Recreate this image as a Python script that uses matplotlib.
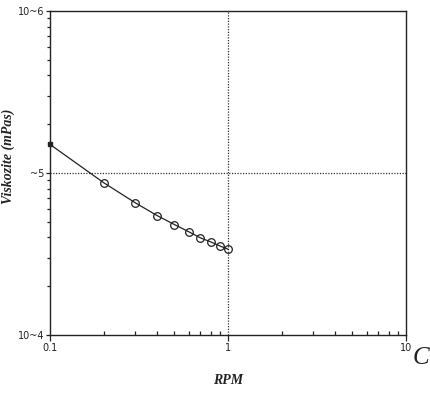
import matplotlib
matplotlib.use('Agg')
import matplotlib.pyplot as plt
from matplotlib.ticker import FixedLocator, NullFormatter, LogLocator

# values
rpm_start = [0.1]
visc_start = [1.50e5]
rpm = [0.1, 0.2, 0.3, 0.4, 0.5, 0.6, 0.7, 0.8, 0.9, 1.0]
visc = [1.50e5, 0.871e5, 0.656e5, 0.545e5, 0.480e5, 0.434e5,
        0.397e5, 0.375e5, 0.354e5, 0.338e5]
x_ticks = [0.1, 1, 10]
x_labels = ['0.1', '1', '10']
y_ticks = [1e4, 1e5, 1e6]
y_labels = ['10~4', '~5', '10~6']

fig = plt.figure(figsize=(4.31, 3.93), dpi=100)
ax = fig.add_axes([0.116, 0.148, 0.826, 0.824])
ax.set_xscale('log')
ax.set_yscale('log')
ax.set_xlim(0.1, 10)
ax.set_ylim(1e4, 1e6)

# dotted reference lines at 1 rpm and 1e5
ax.axvline(1, color='#333333', lw=0.9, ls=(0, (1, 1.2)), zorder=1)
ax.axhline(1e5, color='#333333', lw=0.9, ls=(0, (1, 1.2)), zorder=1)

ax.plot(rpm, visc, color='#222222', lw=0.9, zorder=2)
ax.plot(rpm[1:], visc[1:], ls='none', marker='o', ms=5.5, mfc='none',
        mec='#222222', mew=0.9, zorder=3)
ax.plot(rpm_start, visc_start, ls='none', marker='s', ms=3, color='#222222',
        zorder=3, clip_on=False)

for sp in ax.spines.values():
    sp.set_linewidth(1.0)
    sp.set_color('#222222')

ax.xaxis.set_major_locator(FixedLocator(x_ticks))
ax.set_xticklabels(x_labels)
ax.xaxis.set_minor_locator(LogLocator(base=10, subs=range(2, 10)))
ax.xaxis.set_minor_formatter(NullFormatter())
ax.yaxis.set_major_locator(FixedLocator(y_ticks))
ax.set_yticklabels(y_labels)
ax.yaxis.set_minor_locator(LogLocator(base=10, subs=range(2, 10)))
ax.yaxis.set_minor_formatter(NullFormatter())

ax.tick_params(axis='x', which='major', direction='out', length=4, width=0.9,
               labelsize=7, pad=2, colors='#222222')
ax.tick_params(axis='x', which='minor', direction='in', length=3, width=0.9,
               colors='#222222')
ax.tick_params(axis='y', which='major', direction='out', length=3, width=0.9,
               labelsize=7, pad=1, colors='#222222')
ax.tick_params(axis='y', which='minor', direction='out', length=2.5, width=0.9,
               colors='#222222')
ax.tick_params(top=False, right=False)

ax.set_xlabel('RPM', family='Liberation Serif', style='italic',
              weight='bold', fontsize=10, color='#222222')
ax.xaxis.set_label_coords(0.5, -0.12)
ax.set_ylabel('Viskozite (mPas)', family='Liberation Serif', style='italic',
              weight='bold', fontsize=10, color='#222222')
ax.yaxis.set_label_coords(-0.098, 0.55)

# stray letter from the scanned page
fig.text(0.958, 0.09, 'C', family='Liberation Serif', style='italic',
         fontsize=18, color='#222222', ha='left', va='center')

fig.savefig('out.png', dpi=100)
